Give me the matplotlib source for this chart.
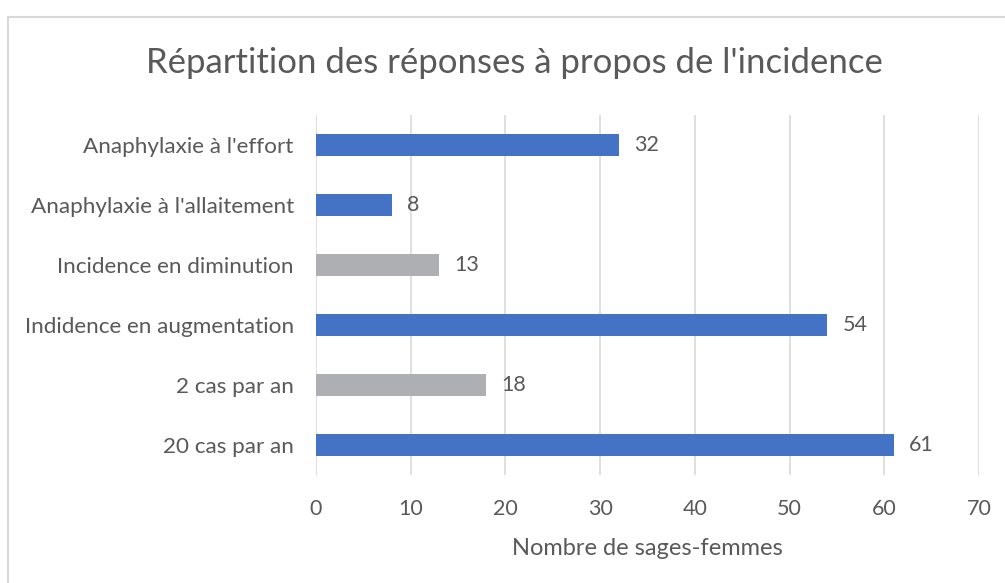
import matplotlib.pyplot as plt
from matplotlib.patches import Rectangle

categories = ["Anaphylaxie à l'effort", "Anaphylaxie à l'allaitement", "Incidence en diminution",
              "Indidence en augmentation", "2 cas par an", "20 cas par an"]
values = [32, 8, 13, 54, 18, 61]
bar_colors = ["#4472C4", "#4472C4", "#AEAFB2", "#4472C4", "#AEAFB2", "#4472C4"]
xticks = [0, 10, 20, 30, 40, 50, 60, 70]

txt = "#595959"
plt.rcParams['font.family'] = ['Lato', 'DejaVu Sans']

fig = plt.figure(figsize=(10.05, 5.83), dpi=100)
W, H = 1005, 583
# chart border (cut off at right/bottom like the screenshot)
fig.patches.append(Rectangle((8 / W, -0.1), 1.2, 1 - 17 / H + 0.1, transform=fig.transFigure,
                             fill=False, edgecolor="#D9D9D9", linewidth=1.5))

ax = fig.add_axes([316 / W, 1 - 475 / H, 663 / W, 360 / H])
y = list(range(len(categories)))[::-1]
ax.barh(y, values, height=0.37, color=bar_colors, zorder=3)
for yi, v in zip(y, values):
    ax.text(v + 1.6, yi, str(v), va='center', ha='left', fontsize=15.5, color=txt)

ax.set_xlim(0, 70)
ax.set_ylim(-0.5, len(categories) - 0.5)
ax.set_xticks(xticks)
ax.set_yticks(y)
ax.set_yticklabels(categories, fontsize=16.2)
ax.tick_params(axis='x', length=0, labelsize=15.5, labelcolor=txt, pad=17)
ax.tick_params(axis='y', length=0, labelcolor=txt, pad=16)
ax.grid(axis='x', color="#D9D9D9", linewidth=1.2, zorder=0)
for s in ax.spines.values():
    s.set_visible(False)
ax.set_xlabel("Nombre de sages-femmes", fontsize=17, color=txt, labelpad=14)

fig.text(514 / W, 1 - 63 / H, "Répartition des réponses à propos de l'incidence",
         ha='center', va='center', fontsize=25, color=txt)

plt.savefig("out.png", dpi=100, facecolor="white")
